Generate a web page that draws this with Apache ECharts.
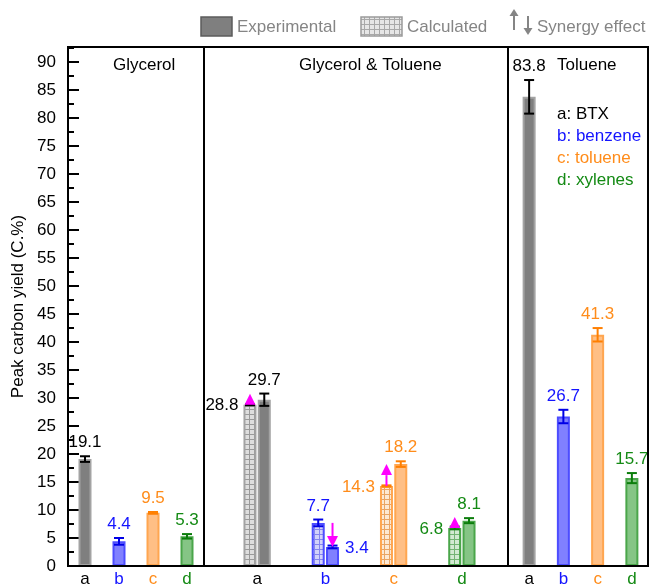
<!DOCTYPE html>
<html>
<head>
<meta charset="utf-8">
<script src="https://cdn.jsdelivr.net/npm/echarts@6/dist/echarts.min.js"></script>
<style>
  html, body { margin: 0; padding: 0; background: #fff; }
  #chart { width: 651px; height: 588px; }
</style>
</head>
<body>
<div id="chart"></div>
<script>
// ---- data ----
const letters = ['a', 'b', 'c', 'd'];
const keyLabels = ['a: BTX', 'b: benzene', 'c: toluene', 'd: xylenes'];
const panelTitles = ['Glycerol', 'Glycerol & Toluene', 'Toluene'];
const legendNames = ['Experimental', 'Calculated', 'Synergy effect'];
const yAxisTitle = 'Peak carbon yield (C.%)';

// Glycerol alone
const glycerolVals = [19.1, 4.4, 9.5, 5.3];
const glycerolErr = [0.5, 0.6, 0.15, 0.4];
// Glycerol & Toluene co-feed: calculated vs experimental
const mixCalcVals = [28.8, 7.7, 14.3, 6.8];
const mixCalcErr = [0.1, 0.6, 0.1, 0.25];
const mixExpVals = [29.7, 3.4, 18.2, 8.1];
const mixExpErr = [1.1, 0.25, 0.5, 0.45];
// Toluene alone
const tolueneVals = [83.8, 26.7, 41.3, 15.7];
const tolueneErr = [3.0, 1.2, 1.2, 0.9];

// ---- styling ----
const FONT = '"Liberation Sans", Arial, sans-serif';
const FS = 17;
const TEXT_COLORS = ['#000000', '#1414ff', '#ff8c1a', '#148a14'];
const ERR_COLORS = ['#000000', '#0000e6', '#ff7f00', '#0b7d0b'];
const FILLS = ['#7f7f7f', '#8080ff', '#ffbf85', '#85c585'];
const EDGES = ['#a3a3a3', '#4d4dff', '#ffa650', '#4aa64a'];
const HATCH_BG = ['#dedede', '#d2d2fa', '#fde9d4', '#d2ead2'];
const HATCH_LN = ['#9a9a9a', '#8585ee', '#e9a565', '#74b474'];
const ARROW_COLOR = '#ff00ff';

const FRAME = { left: 68, right: 648, top: 47, bottom: 566 };
const SEPARATORS = [204, 508];
const Y_MAX = 92.7;
const BAR_W = 13;
const BAR_GAP = 0.1;
const MID_OFF = BAR_W * (1 + BAR_GAP) / 2;
const CAP = 5;

function hatch(bg, line) {
  const c = document.createElement('canvas');
  c.width = 5; c.height = 5;
  const g = c.getContext('2d');
  g.fillStyle = bg; g.fillRect(0, 0, 5, 5);
  g.fillStyle = line; g.fillRect(4, 0, 1, 5); g.fillRect(0, 4, 5, 1);
  return { image: c, repeat: 'repeat' };
}

const chart = echarts.init(document.getElementById('chart'), null, { renderer: 'canvas' });

const gridH = FRAME.bottom - FRAME.top;
const grids = [
  { left: FRAME.left, width: SEPARATORS[0] - FRAME.left, top: FRAME.top, height: gridH },
  { left: 223, width: 273, top: FRAME.top, height: gridH },
  { left: 512, width: 137, top: FRAME.top, height: gridH }
];

function catAxis(gridIndex) {
  return {
    type: 'category', gridIndex, data: letters,
    axisLine: { show: false }, axisTick: { show: false },
    axisLabel: {
      margin: 5, fontSize: FS, fontFamily: FONT,
      color: (v, i) => TEXT_COLORS[letters.indexOf(v)]
    }
  };
}

function valAxis(gridIndex, visible) {
  return {
    type: 'value', gridIndex, min: 0, max: Y_MAX, interval: 5,
    show: visible,
    splitLine: { show: false },
    axisLine: { show: visible, lineStyle: { color: '#000', width: 2 } },
    axisTick: { show: visible, inside: true, length: 11, lineStyle: { color: '#000', width: 2 } },
    axisLabel: { show: visible, showMaxLabel: false, margin: 12, fontSize: FS, fontFamily: FONT, color: '#000' },
    name: visible ? yAxisTitle : '',
    nameLocation: 'middle', nameGap: 41,
    nameTextStyle: { fontSize: FS, fontFamily: FONT, color: '#000' }
  };
}

// minor ticks (every 2.5) on the left axis
const minorAxis = {
  type: 'value', gridIndex: 0, min: 0, max: Y_MAX, interval: 2.5, position: 'left',
  splitLine: { show: false }, axisLine: { show: false }, axisLabel: { show: false },
  axisTick: { show: true, inside: true, length: 6, lineStyle: { color: '#000', width: 2 } }
};

function barData(vals, fills) {
  return vals.map((v, i) => ({
    value: v,
    itemStyle: { color: fills[i], borderColor: EDGES[i], borderWidth: 2 }
  }));
}

// error bars + value labels, drawn through the axis coordinate system
function errSeries(xi, yi, vals, errs, offset, placements) {
  return {
    type: 'custom', xAxisIndex: xi, yAxisIndex: yi, z: 10,
    data: vals.map((v, i) => [i, v, errs[i]]),
    renderItem(params, api) {
      const i = api.value(0), v = api.value(1), e = api.value(2);
      const base = api.coord([i, v]);
      const x = base[0] + offset;
      const yHi = api.coord([i, v + e])[1];
      const yLo = api.coord([i, v - e])[1];
      const col = ERR_COLORS[i];
      const ls = { stroke: col, lineWidth: 2 };
      const children = [
        { type: 'line', shape: { x1: x, y1: yHi, x2: x, y2: yLo }, style: ls },
        { type: 'line', shape: { x1: x - CAP, y1: yHi, x2: x + CAP, y2: yHi }, style: ls },
        { type: 'line', shape: { x1: x - CAP, y1: yLo, x2: x + CAP, y2: yLo }, style: ls }
      ];
      const pos = placements[i];
      let tx, ty, align, va;
      if (pos === 'top') { tx = x; ty = yHi - 5; align = 'center'; va = 'bottom'; }
      else if (pos === 'left') { tx = x - BAR_W / 2 - 5; ty = base[1] + 1; align = 'right'; va = 'middle'; }
      else { tx = x + BAR_W / 2 + 6; ty = base[1] + 1; align = 'left'; va = 'middle'; }
      children.push({
        type: 'text',
        style: {
          x: tx, y: ty, text: v.toFixed(1), fill: TEXT_COLORS[i],
          font: FS + 'px ' + FONT,
          align: align, verticalAlign: va, textAlign: align, textVerticalAlign: va
        }
      });
      return { type: 'group', children };
    }
  };
}

// synergy arrows from calculated to experimental value
const HEAD_H = 11, HEAD_W = 11;
const arrowSeries = {
  type: 'custom', xAxisIndex: 1, yAxisIndex: 1, z: 12,
  data: mixCalcVals.map((v, i) => [i, v, mixExpVals[i]]),
  renderItem(params, api) {
    const i = api.value(0), from = api.value(1), to = api.value(2);
    const up = to > from;
    const x = api.coord([i, from])[0] + (up ? -MID_OFF : MID_OFF);
    const y0 = api.coord([i, from])[1];
    let y1 = api.coord([i, to])[1];
    const dir = up ? -1 : 1;
    if (Math.abs(y1 - y0) < HEAD_H) y1 = y0 + dir * HEAD_H;
    const baseY = y1 - dir * HEAD_H;
    return {
      type: 'group',
      children: [
        { type: 'line', shape: { x1: x, y1: y0, x2: x, y2: baseY }, style: { stroke: ARROW_COLOR, lineWidth: 2 } },
        { type: 'polygon', shape: { points: [[x - HEAD_W / 2, baseY], [x + HEAD_W / 2, baseY], [x, y1]] }, style: { fill: ARROW_COLOR } }
      ]
    };
  }
};

// frame, titles, key, legend
const titleLefts = [113, 299, 557];
const graphics = [
  { type: 'rect', z: 20, shape: { x: FRAME.left, y: FRAME.top, width: FRAME.right - FRAME.left, height: FRAME.bottom - FRAME.top },
    style: { fill: 'none', stroke: '#000', lineWidth: 2 } },
  ...SEPARATORS.map(sx => ({ type: 'line', z: 20, shape: { x1: sx, y1: FRAME.top, x2: sx, y2: FRAME.bottom }, style: { stroke: '#000', lineWidth: 2 } })),
  ...panelTitles.map((t, k) => ({ type: 'text', z: 20, style: { x: titleLefts[k], y: 65, text: t, font: FS + 'px ' + FONT, fill: '#000', verticalAlign: 'middle', textVerticalAlign: 'middle' } })),
  ...keyLabels.map((t, k) => ({ type: 'text', z: 20, style: { x: 557, y: 114 + k * 22, text: t, font: FS + 'px ' + FONT, fill: TEXT_COLORS[k], verticalAlign: 'middle', textVerticalAlign: 'middle' } })),
  // legend
  { type: 'rect', shape: { x: 201, y: 17, width: 31, height: 19 }, style: { fill: '#7f7f7f', stroke: '#5c5c5c', lineWidth: 1.5 } },
  { type: 'text', style: { x: 237, y: 27, text: legendNames[0], font: FS + 'px ' + FONT, fill: '#858585', verticalAlign: 'middle', textVerticalAlign: 'middle' } },
  { type: 'rect', shape: { x: 361, y: 17, width: 41, height: 19 }, style: { fill: hatch('#e6e6e6', '#a8a8a8'), stroke: '#9a9a9a', lineWidth: 1.5 } },
  { type: 'text', style: { x: 407, y: 27, text: legendNames[1], font: FS + 'px ' + FONT, fill: '#858585', verticalAlign: 'middle', textVerticalAlign: 'middle' } },
  { type: 'line', shape: { x1: 514, y1: 30, x2: 514, y2: 15 }, style: { stroke: '#858585', lineWidth: 2 } },
  { type: 'polygon', shape: { points: [[509.5, 16], [518.5, 16], [514, 9]] }, style: { fill: '#858585' } },
  { type: 'line', shape: { x1: 528, y1: 16, x2: 528, y2: 29 }, style: { stroke: '#858585', lineWidth: 2 } },
  { type: 'polygon', shape: { points: [[523.5, 28], [532.5, 28], [528, 35]] }, style: { fill: '#858585' } },
  { type: 'text', style: { x: 537, y: 27, text: legendNames[2], font: FS + 'px ' + FONT, fill: '#858585', verticalAlign: 'middle', textVerticalAlign: 'middle' } }
];

const hatchFills = HATCH_BG.map((bg, i) => hatch(bg, HATCH_LN[i]));

const option = {
  animation: false,
  backgroundColor: '#fff',
  grid: grids,
  xAxis: [catAxis(0), catAxis(1), catAxis(2)],
  yAxis: [valAxis(0, true), valAxis(1, false), valAxis(2, false), minorAxis],
  series: [
    { type: 'bar', xAxisIndex: 0, yAxisIndex: 0, barWidth: BAR_W, data: barData(glycerolVals, FILLS) },
    { type: 'bar', xAxisIndex: 1, yAxisIndex: 1, barWidth: BAR_W, barGap: (BAR_GAP * 100) + '%', data: barData(mixCalcVals, hatchFills) },
    { type: 'bar', xAxisIndex: 1, yAxisIndex: 1, barWidth: BAR_W, barGap: (BAR_GAP * 100) + '%', data: barData(mixExpVals, FILLS) },
    { type: 'bar', xAxisIndex: 2, yAxisIndex: 2, barWidth: BAR_W, data: barData(tolueneVals, FILLS) },
    errSeries(0, 0, glycerolVals, glycerolErr, 0, ['top', 'top', 'top', 'top']),
    errSeries(1, 1, mixCalcVals, mixCalcErr, -MID_OFF, ['left', 'top', 'left', 'left']),
    errSeries(1, 1, mixExpVals, mixExpErr, MID_OFF, ['top', 'right', 'top', 'top']),
    errSeries(2, 2, tolueneVals, tolueneErr, 0, ['top', 'top', 'top', 'top']),
    arrowSeries
  ],
  graphic: graphics
};

chart.setOption(option);
</script>
</body>
</html>
